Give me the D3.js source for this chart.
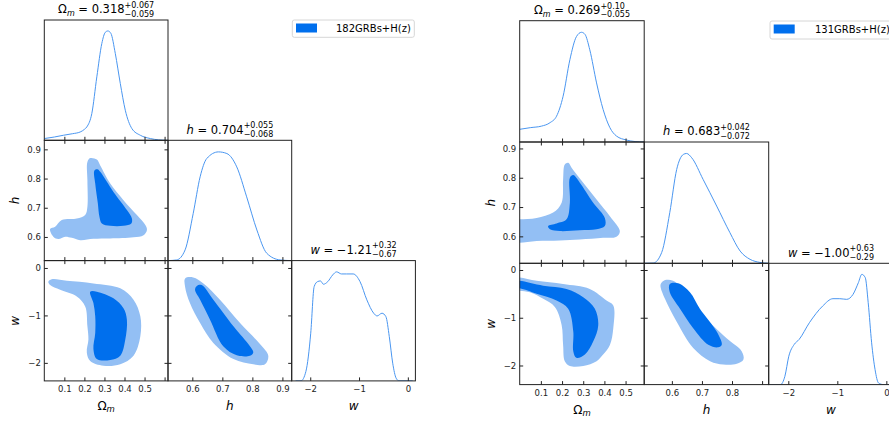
<!DOCTYPE html>
<html lang="en">
<head>
<meta charset="utf-8">
<title>Triangle plots 182GRBs+H(z) / 131GRBs+H(z)</title>
<script src="https://d3js.org/d3.v7.min.js"></script>
<style>
  body { margin: 0; background: #fff; }
  svg { display: block; font-family: "DejaVu Sans", sans-serif; }
</style>
</head>
<body>
<svg id="chart" width="889" height="422"></svg>
<script>
// ---- data ----
// left triangle: 182GRBs+H(z)
const bestA = ["0.318", "0.704", "−1.21"];
const plusA = ["+0.067", "+0.055", "+0.32"];
const minusA = ["−0.059", "−0.068", "−0.67"];
const omDensA = [[0.0,0.016],[0.05,0.03],[0.095,0.046],[0.14,0.06],[0.179,0.076],[0.2,0.1],[0.212,0.122],[0.237,0.245],[0.262,0.58],[0.287,0.886],[0.304,0.987],[0.317,1.0],[0.332,0.978],[0.354,0.795],[0.379,0.52],[0.404,0.275],[0.437,0.107],[0.479,0.046],[0.529,0.016],[0.57,0.004],[0.612,0.0]];
const hDensA = [[0.519,0],[0.548,0.006],[0.576,0.098],[0.603,0.432],[0.626,0.766],[0.648,0.933],[0.687,0.994],[0.715,0.979],[0.748,0.857],[0.781,0.583],[0.815,0.28],[0.848,0.067],[0.892,0.006],[0.931,0]];
const wDensA = [[-2.3,0],[-2.19,0],[-2.09,0.085],[-1.99,0.436],[-1.92,0.862],[-1.85,0.908],[-1.79,0.914],[-1.73,0.884],[-1.64,0.908],[-1.54,0.969],[-1.46,0.997],[-1.36,0.978],[-1.26,0.978],[-1.12,0.978],[-0.98,0.908],[-0.84,0.741],[-0.70,0.619],[-0.63,0.594],[-0.53,0.619],[-0.45,0.588],[-0.38,0.405],[-0.31,0.162],[-0.24,0.025],[-0.18,0],[0.1,0]];
const omHOuterA = [[0.215,0.857],[0.229,0.870],[0.262,0.865],[0.279,0.845],[0.329,0.783],[0.395,0.726],[0.462,0.675],[0.504,0.641],[0.512,0.624],[0.495,0.606],[0.445,0.599],[0.329,0.595],[0.245,0.594],[0.179,0.589],[0.137,0.597],[0.104,0.601],[0.070,0.593],[0.045,0.601],[0.029,0.627],[0.054,0.635],[0.087,0.658],[0.162,0.663],[0.204,0.675],[0.215,0.703],[0.215,0.794]];
const omHInnerA = [[0.25,0.828],[0.265,0.832],[0.279,0.823],[0.345,0.754],[0.412,0.692],[0.437,0.663],[0.434,0.646],[0.395,0.638],[0.329,0.638],[0.287,0.646],[0.275,0.669],[0.267,0.715],[0.254,0.783]];
const omWOuterA = [[0.02,-0.29],[0.037,-0.24],[0.112,-0.27],[0.245,-0.325],[0.379,-0.43],[0.445,-0.67],[0.479,-1.02],[0.479,-1.44],[0.445,-1.85],[0.379,-2.03],[0.295,-2.06],[0.229,-1.96],[0.212,-1.78],[0.22,-1.51],[0.215,-1.23],[0.204,-0.81],[0.162,-0.60],[0.079,-0.46],[0.029,-0.36]];
const omWInnerA = [[0.229,-0.5],[0.262,-0.5],[0.345,-0.64],[0.395,-0.85],[0.412,-1.09],[0.404,-1.51],[0.379,-1.85],[0.329,-1.94],[0.262,-1.92],[0.245,-1.71],[0.254,-1.37],[0.254,-1.02],[0.245,-0.74]];
const hWOuterA = [[0.576,-0.22],[0.603,-0.2],[0.637,-0.325],[0.692,-0.67],[0.759,-1.16],[0.826,-1.61],[0.853,-1.85],[0.842,-2.03],[0.803,-2.03],[0.737,-1.92],[0.67,-1.58],[0.626,-1.16],[0.592,-0.74],[0.576,-0.4]];
const hWInnerA = [[0.615,-0.38],[0.631,-0.36],[0.67,-0.67],[0.737,-1.23],[0.792,-1.65],[0.803,-1.78],[0.792,-1.85],[0.748,-1.84],[0.703,-1.65],[0.659,-1.09],[0.626,-0.67],[0.609,-0.46]];

// right triangle: 131GRBs+H(z)
const bestB = ["0.269", "0.683", "−1.00"];
const plusB = ["+0.10", "+0.042", "+0.63"];
const minusB = ["−0.055", "−0.072", "−0.29"];
const omDensB = [[0.0,0.115],[0.05,0.13],[0.103,0.144],[0.143,0.175],[0.174,0.234],[0.205,0.415],[0.237,0.746],[0.268,0.956],[0.292,0.995],[0.308,0.977],[0.331,0.836],[0.363,0.536],[0.394,0.295],[0.426,0.130],[0.457,0.054],[0.504,0.018],[0.545,0.004],[0.588,0]];
const hDensB = [[0.508,0],[0.538,0.002],[0.566,0.097],[0.593,0.459],[0.616,0.851],[0.638,0.987],[0.649,0.996],[0.666,0.957],[0.704,0.760],[0.749,0.519],[0.793,0.278],[0.827,0.111],[0.86,0.036],[0.893,0.008],[0.922,0]];
const wDensB = [[-2.4,0],[-2.16,0],[-2.07,0.075],[-1.99,0.257],[-1.88,0.364],[-1.78,0.409],[-1.57,0.561],[-1.30,0.712],[-1.09,0.779],[-0.95,0.779],[-0.81,0.773],[-0.68,0.818],[-0.57,0.925],[-0.50,1.0],[-0.43,0.970],[-0.37,0.743],[-0.30,0.379],[-0.23,0.136],[-0.16,0.015],[-0.06,0],[0.14,0]];
const omHOuterB = [[-0.03,0.657],[0.0,0.658],[0.08,0.663],[0.158,0.681],[0.198,0.715],[0.205,0.794],[0.213,0.845],[0.229,0.851],[0.245,0.834],[0.3,0.783],[0.363,0.726],[0.426,0.669],[0.473,0.618],[0.457,0.599],[0.394,0.595],[0.284,0.589],[0.19,0.586],[0.08,0.584],[0.0,0.578],[-0.03,0.577]];
const omHInnerB = [[0.134,0.635],[0.174,0.644],[0.221,0.658],[0.237,0.715],[0.237,0.8],[0.253,0.809],[0.284,0.783],[0.347,0.715],[0.402,0.663],[0.402,0.635],[0.363,0.624],[0.284,0.621],[0.19,0.618],[0.143,0.624]];
const omWOuterB = [[-0.03,-0.15],[0.0,-0.157],[0.08,-0.227],[0.205,-0.295],[0.331,-0.398],[0.41,-0.639],[0.442,-0.742],[0.442,-1.22],[0.426,-1.57],[0.394,-1.77],[0.363,-1.91],[0.3,-2.01],[0.237,-2.01],[0.213,-1.91],[0.205,-1.57],[0.198,-1.15],[0.166,-0.775],[0.111,-0.604],[0.048,-0.466],[0.0,-0.433],[-0.03,-0.43]];
const omWInnerB = [[-0.03,-0.22],[0.0,-0.227],[0.111,-0.33],[0.221,-0.398],[0.3,-0.569],[0.355,-0.81],[0.371,-1.155],[0.347,-1.5],[0.308,-1.77],[0.268,-1.84],[0.253,-1.70],[0.253,-1.29],[0.229,-0.81],[0.174,-0.639],[0.08,-0.50],[0.0,-0.385],[-0.03,-0.38]];
const hWOuterB = [[0.566,-0.26],[0.582,-0.206],[0.604,-0.227],[0.649,-0.466],[0.704,-0.948],[0.782,-1.43],[0.832,-1.70],[0.838,-1.876],[0.816,-1.965],[0.771,-1.98],[0.727,-1.91],[0.671,-1.635],[0.616,-1.085],[0.577,-0.604],[0.562,-0.33]];
const hWInnerB = [[0.593,-0.295],[0.621,-0.28],[0.66,-0.466],[0.693,-0.81],[0.749,-1.29],[0.766,-1.567],[0.754,-1.62],[0.721,-1.567],[0.671,-1.22],[0.627,-0.81],[0.593,-0.466]];

const omTicks = [0.1, 0.2, 0.3, 0.4, 0.5];
const hTicks = [0.6, 0.7, 0.8, 0.9];
const wTicks = [-2, -1, 0];

const svg = d3.select("#chart");
const darkBlue = "#006fed", lightBlue = "#93bff4", lineBlue = "#4a96f0", ink = "#222";
let clipId = 0;

function drawTitle(g, cx, y, sym, sub, italic, val, plus, minus) {
  const main = g.append("text").attr("y", y).attr("font-size", 11.5).attr("fill", "#000");
  main.append("tspan").attr("font-style", italic ? "italic" : null).text(sym);
  if (sub) main.append("tspan").attr("font-size", 8).attr("font-style", "italic").attr("dy", 2.5).text(sub);
  main.append("tspan").attr("dy", sub ? -2.5 : 0).text(" = " + val);
  const w = main.node().getComputedTextLength();
  const sp = g.append("text").attr("font-size", 8).attr("y", y - 5.5).text(plus);
  const sb = g.append("text").attr("font-size", 8).attr("y", y + 3.2).text(minus);
  const ws = Math.max(sp.node().getComputedTextLength(), sb.node().getComputedTextLength());
  const x0 = cx - (w + ws) / 2;
  main.attr("x", x0);
  sp.attr("x", x0 + w);
  sb.attr("x", x0 + w);
}

function axisLabel(g, x, y, sym, sub, italic, rotate) {
  const t = g.append("text").attr("font-size", 12).attr("fill", "#000").attr("text-anchor", "middle")
    .attr("transform", rotate ? `translate(${x},${y}) rotate(-90)` : `translate(${x},${y})`);
  t.append("tspan").attr("font-style", italic ? "italic" : null).text(sym);
  if (sub) t.append("tspan").attr("font-size", 8.5).attr("font-style", "italic").attr("dy", 2.5).text(sub);
}

function drawTriangle(cfg) {
  const g = svg.append("g");
  const { x0, y0, pw, ph, doms, ticks, hide, dens, contours } = cfg;
  const n = 3;
  const xs = doms.map((d, i) => d3.scaleLinear().domain(d).range([x0 + i * pw, x0 + (i + 1) * pw]));
  const ys = doms.map((d, i) => d3.scaleLinear().domain(d).range([y0 + (i + 1) * ph, y0 + i * ph]));
  const fmt = [d3.format(".1f"), d3.format(".1f"), d3.format("d")];

  function clip(c, r) {
    const id = "clip" + (clipId++);
    g.append("clipPath").attr("id", id).append("rect")
      .attr("x", x0 + c * pw).attr("y", y0 + r * ph).attr("width", pw).attr("height", ph);
    return `url(#${id})`;
  }

  for (let r = 0; r < n; r++) {
    for (let c = 0; c <= r; c++) {
      const cell = g.append("g").attr("clip-path", clip(c, r));
      if (c === r) {
        const yd = d3.scaleLinear().domain([0, 1.1]).range([y0 + (r + 1) * ph, y0 + r * ph]);
        const line = d3.line().x(d => xs[c](d[0])).y(d => yd(d[1])).curve(d3.curveMonotoneX);
        cell.append("path").attr("d", line(dens[c])).attr("fill", "none")
          .attr("stroke", lineBlue).attr("stroke-width", 1);
      } else {
        const area = d3.line().x(d => xs[c](d[0])).y(d => ys[r](d[1])).curve(d3.curveCatmullRomClosed.alpha(0.5));
        const pair = contours[`${c}${r}`];
        cell.append("path").attr("d", area(pair[0])).attr("fill", lightBlue);
        cell.append("path").attr("d", area(pair[1])).attr("fill", darkBlue);
      }
    }
  }

  // frames and ticks
  for (let r = 0; r < n; r++) {
    for (let c = 0; c <= r; c++) {
      const left = x0 + c * pw, top = y0 + r * ph;
      const bottomRow = r === n - 1, leftCol = c === 0;
      const xt = ticks[c];
      const xfmt = d => bottomRow && !hide[c].includes(d) ? fmt[c](d) : "";
      const ax = g.append("g").attr("transform", `translate(0,${top + ph})`)
        .call(d3.axisBottom(xs[c]).tickValues(xt).tickSize(-3.5).tickPadding(5).tickFormat(xfmt));
      if (c !== r) {
        const yfmt = d => leftCol ? fmt[r](d) : "";
        g.append("g").attr("transform", `translate(${left},0)`)
          .call(d3.axisLeft(ys[r]).tickValues(ticks[r]).tickSize(-3.5).tickPadding(3.5).tickFormat(yfmt));
        g.append("g").attr("transform", `translate(${left + pw},0)`)
          .call(d3.axisRight(ys[r]).tickValues(ticks[r]).tickSize(-3.5).tickFormat(""));
        g.append("g").attr("transform", `translate(0,${top})`)
          .call(d3.axisTop(xs[c]).tickValues(xt).tickSize(-3.5).tickFormat(""));
      }
      g.append("rect").attr("x", left).attr("y", top).attr("width", pw).attr("height", ph)
        .attr("fill", "none").attr("stroke", ink).attr("stroke-width", 1);
    }
  }
  g.selectAll(".domain").remove();
  g.selectAll(".tick line").attr("stroke", ink);
  g.selectAll(".tick text").attr("font-size", 8.5).attr("fill", ink)
    .attr("font-family", "DejaVu Sans, sans-serif");

  // titles
  const syms = [["Ω", "m", false], ["h", null, true], ["w", null, true]];
  for (let i = 0; i < n; i++) {
    drawTitle(g, x0 + (i + 0.5) * pw, y0 + i * ph - 6.7, syms[i][0], syms[i][1], syms[i][2],
      cfg.best[i], cfg.plus[i], cfg.minus[i]);
    axisLabel(g, x0 + (i + 0.5) * pw, cfg.xlabY, syms[i][0], syms[i][1], syms[i][2], false);
  }
  axisLabel(g, cfg.ylabX, y0 + 1.5 * ph, "h", null, true, true);
  axisLabel(g, cfg.ylabX, y0 + 2.5 * ph, "w", null, true, true);

  // legend
  const lg = cfg.legend;
  g.append("rect").attr("x", lg.x).attr("y", lg.y).attr("width", lg.w).attr("height", lg.h)
    .attr("rx", 2).attr("fill", "#fff").attr("stroke", "#d6d6d6").attr("stroke-width", 1);
  g.append("rect").attr("x", lg.x + 3.7).attr("y", lg.y + 3.5).attr("width", 21).attr("height", 9)
    .attr("fill", darkBlue);
  g.append("text").attr("x", lg.tx).attr("y", lg.y + 12.2).attr("font-size", 10).attr("fill", "#000")
    .text(lg.label);
}

drawTriangle({
  x0: 44.3, y0: 20, pw: 123.7, ph: 120.3,
  doms: [[0.0, 0.617], [0.519, 0.931], [-2.38, 0.155]],
  ticks: [[0.1, 0.2, 0.3, 0.4, 0.5, 0.6], hTicks, wTicks],
  hide: [[0.6], [], []],
  dens: [omDensA, hDensA, wDensA],
  contours: { "01": [omHOuterA, omHInnerA], "02": [omWOuterA, omWInnerA], "12": [hWOuterA, hWInnerA] },
  best: bestA, plus: plusA, minus: minusA,
  xlabY: 409.5, ylabX: 18.5,
  legend: { x: 292.3, y: 20, w: 122, h: 17.3, tx: 336, label: "182GRBs+H(z)" }
});

drawTriangle({
  x0: 519.7, y0: 20.7, pw: 124.5, ph: 121.3,
  doms: [[0.0, 0.588], [0.508, 0.922], [-2.40, 0.14]],
  ticks: [omTicks, hTicks, wTicks],
  hide: [[], [0.9], []],
  dens: [omDensB, hDensB, wDensB],
  contours: { "01": [omHOuterB, omHInnerB], "02": [omWOuterB, omWInnerB], "12": [hWOuterB, hWInnerB] },
  best: bestB, plus: plusB, minus: minusB,
  xlabY: 413.5, ylabX: 495,
  legend: { x: 770, y: 21, w: 122, h: 18, tx: 815, label: "131GRBs+H(z)" }
});
</script>
</body>
</html>
